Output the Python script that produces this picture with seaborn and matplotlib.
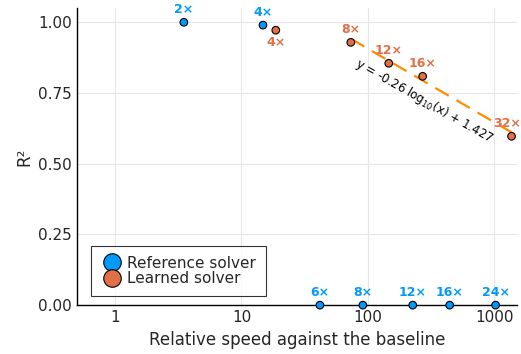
import numpy as np
import pandas as pd
import matplotlib
matplotlib.use("Agg")
import matplotlib.pyplot as plt
import seaborn as sns

# Data
ref_speed = [3.5, 14.8, 41.8, 91.4, 227, 445, 1028]
ref_r2 = [1.0, 0.99, 0.0, 0.0, 0.0, 0.0, 0.0]
ref_labels = ["2×", "4×", "6×", "8×", "12×", "16×", "24×"]

learn_speed = [18.7, 73.4, 146.6, 272, 1375]
learn_r2 = [0.972, 0.929, 0.855, 0.809, 0.597]
learn_labels = ["4×", "8×", "12×", "16×", "32×"]

fit_slope = -0.26
fit_intercept = 1.427
fit_text = r"y = -0.26 log$_{10}$(x) + 1.427"

blue = "#009AFA"
orange = "#E26F46"
line_orange = "#FF8C00"

df = pd.DataFrame({
    "speed": ref_speed + learn_speed,
    "r2": ref_r2 + learn_r2,
    "solver": ["Reference solver"] * len(ref_speed) + ["Learned solver"] * len(learn_speed),
})

sns.set_style("white")
plt.rcParams["font.family"] = ["DejaVu Sans"]

fig, ax = plt.subplots(figsize=(5.21, 3.54), dpi=100)
fig.subplots_adjust(left=0.148, right=0.992, top=0.977, bottom=0.138)

# fit line
xs = np.logspace(np.log10(learn_speed[1]), np.log10(learn_speed[-1]), 50)
ax.plot(xs, fit_slope * np.log10(xs) + fit_intercept, ls=(0, (7, 4)), color=line_orange, lw=1.6, zorder=2)

sns.scatterplot(data=df, x="speed", y="r2", hue="solver",
                palette={"Reference solver": blue, "Learned solver": orange},
                s=30, edgecolor="black", linewidth=0.8, ax=ax, zorder=3, clip_on=False)

ax.set_xscale("log")
ax.set_xlim(0.5, 1514)
ax.set_ylim(0, 1.05)
ax.set_xticks([1, 10, 100, 1000])
ax.set_xticklabels(["1", "10", "100", "1000"])
ax.set_yticks([0, 0.25, 0.5, 0.75, 1.0])
ax.set_yticklabels(["0.00", "0.25", "0.50", "0.75", "1.00"])
ax.minorticks_off()
ax.grid(True, color="#e6e6e6", lw=0.8)
ax.set_axisbelow(True)
for s in ["top", "right"]:
    ax.spines[s].set_visible(False)
for s in ["left", "bottom"]:
    ax.spines[s].set_color("black")
    ax.spines[s].set_linewidth(1.0)
ax.tick_params(direction="in", length=4, labelsize=11, color="black", width=0.8)
ax.set_xlabel("Relative speed against the baseline", fontsize=12)
ax.set_ylabel("R²", fontsize=12)

# point labels
for x, y, t in zip(ref_speed, ref_r2, ref_labels):
    ax.annotate(t, (x, y), xytext=(0, 4.5), textcoords="offset points", ha="center", va="bottom",
                color=blue, fontsize=9, fontweight="bold")
n = len(learn_speed)
for i, (x, y, t) in enumerate(zip(learn_speed, learn_r2, learn_labels)):
    if i == 0:
        ax.annotate(t, (x, y), xytext=(0, -4.5), textcoords="offset points", ha="center", va="top",
                    color=orange, fontsize=9, fontweight="bold")
    elif i == n - 1:
        ax.annotate(t, (x, y), xytext=(-3, 4.5), textcoords="offset points", ha="center", va="bottom",
                    color=orange, fontsize=9, fontweight="bold")
    else:
        ax.annotate(t, (x, y), xytext=(0, 4.5), textcoords="offset points", ha="center", va="bottom",
                    color=orange, fontsize=9, fontweight="bold")

ax.text(280, 0.72, fit_text, rotation=-29.5, rotation_mode="anchor", ha="center", va="center",
        fontsize=8.6, color="black")

leg = ax.legend(loc="lower left", bbox_to_anchor=(0.014, 0.004), fontsize=11, frameon=True,
                fancybox=False, edgecolor="black", markerscale=2.3, handletextpad=0.3,
                borderpad=0.65, labelspacing=0.05, handlelength=1.4)
leg.get_frame().set_linewidth(0.8)

fig.savefig("out.png", dpi=100)
